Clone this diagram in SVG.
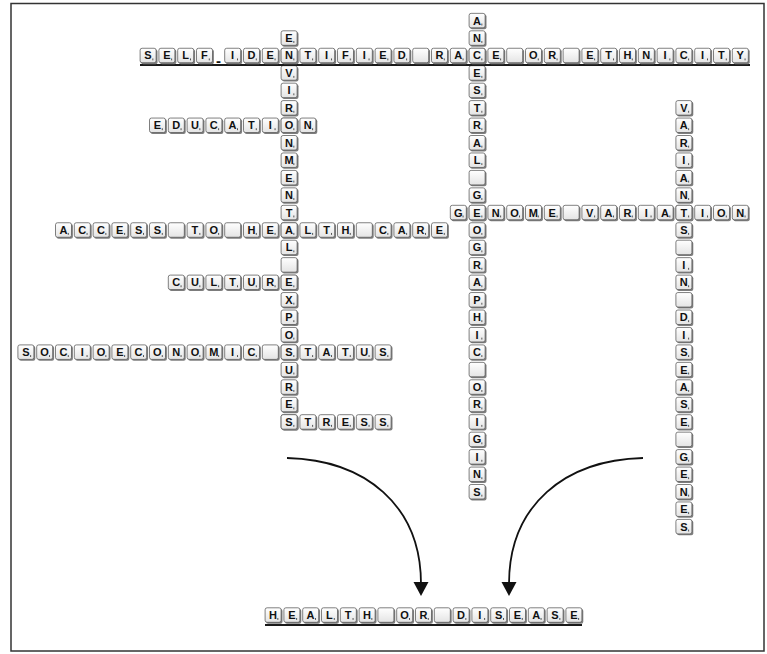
<svg xmlns="http://www.w3.org/2000/svg" xmlns:xlink="http://www.w3.org/1999/xlink" width="767" height="654" viewBox="0 0 767 654">
<style>
.l{font-family:"Liberation Sans",Arial,Helvetica,sans-serif;font-size:11px;font-weight:bold;fill:#111;text-anchor:middle}
.hy{font-size:15px}
.conn{fill:none;stroke:#111;stroke-width:1.8}
.ul{stroke:#1a1a1a;stroke-width:2}
</style>
<defs>
<linearGradient id="gf" x1="0" y1="0" x2="0" y2="1">
<stop offset="0" stop-color="#ffffff"/>
<stop offset="1" stop-color="#e4e4e4"/>
</linearGradient>
<g id="bt">
<rect x="-6.8" y="-6" width="16.3" height="14.7" rx="2" fill="#7f7f7f"/>
<rect x="-7.9" y="-7.2" width="16" height="14.5" rx="2" fill="url(#gf)" stroke="#555" stroke-width="0.75"/>
</g>
<g id="lt">
<use href="#bt"/>
<rect x="4.4" y="3" width="0.9" height="1.9" fill="#444"/>
</g>
</defs>
<rect x="0" y="0" width="767" height="654" fill="#fff"/>
<rect x="11" y="3.5" width="753" height="647.5" fill="none" stroke="#333" stroke-width="1.5"/>

<g id="connectors">
<path class="conn" d="M287,458 C365,460 421,505 421,584"/>
<path d="M413.5,582 L428.5,582 L421,596 Z" fill="#111"/>
<path class="conn" d="M643,458 C565,460 509,505 509,584"/>
<path d="M501.5,582 L516.5,582 L509,596 Z" fill="#111"/>
</g>

<g id="environmental-exposures" transform="translate(289,38)">
<use href="#lt" y="0"/><use href="#lt" y="17.45"/><use href="#lt" y="34.9"/><use href="#lt" y="52.35"/><use href="#lt" y="69.8"/><use href="#lt" y="87.25"/><use href="#lt" y="104.7"/><use href="#lt" y="122.15"/><use href="#lt" y="139.6"/><use href="#lt" y="157.05"/><use href="#lt" y="174.5"/><use href="#lt" y="191.95"/><use href="#lt" y="209.4"/><use href="#bt" y="226.85"/><use href="#lt" y="244.3"/><use href="#lt" y="261.75"/><use href="#lt" y="279.2"/><use href="#lt" y="296.65"/><use href="#lt" y="314.1"/><use href="#lt" y="331.55"/><use href="#lt" y="349"/><use href="#lt" y="366.45"/><use href="#lt" y="383.9"/>
<text class="l" x="0 0 0 0 0 0 0 0 0 0 0 0 0 0 0 0 0 0 0 0 0 0 0" y="4 21.45 38.9 56.35 73.8 91.25 108.7 126.15 143.6 161.05 178.5 195.95 213.4 230.85 248.3 265.75 283.2 300.65 318.1 335.55 353 370.45 387.9">ENVIRONMENTAL EXPOSURES</text>
</g>

<g id="ancestral-geographic-origins" transform="translate(477,20.55)">
<use href="#lt" y="0"/><use href="#lt" y="17.45"/><use href="#lt" y="34.9"/><use href="#lt" y="52.35"/><use href="#lt" y="69.8"/><use href="#lt" y="87.25"/><use href="#lt" y="104.7"/><use href="#lt" y="122.15"/><use href="#lt" y="139.6"/><use href="#bt" y="157.05"/><use href="#lt" y="174.5"/><use href="#lt" y="191.95"/><use href="#lt" y="209.4"/><use href="#lt" y="226.85"/><use href="#lt" y="244.3"/><use href="#lt" y="261.75"/><use href="#lt" y="279.2"/><use href="#lt" y="296.65"/><use href="#lt" y="314.1"/><use href="#lt" y="331.55"/><use href="#bt" y="349"/><use href="#lt" y="366.45"/><use href="#lt" y="383.9"/><use href="#lt" y="401.35"/><use href="#lt" y="418.8"/><use href="#lt" y="436.25"/><use href="#lt" y="453.7"/><use href="#lt" y="471.15"/>
<text class="l" x="0 0 0 0 0 0 0 0 0 0 0 0 0 0 0 0 0 0 0 0 0 0 0 0 0 0 0 0" y="4 21.45 38.9 56.35 73.8 91.25 108.7 126.15 143.6 161.05 178.5 195.95 213.4 230.85 248.3 265.75 283.2 300.65 318.1 335.55 353 370.45 387.9 405.35 422.8 440.25 457.7 475.15">ANCESTRAL GEOGRAPHIC ORIGINS</text>
</g>

<g id="variants-in-disease-genes" transform="translate(683.8,107.8)">
<use href="#lt" y="0"/><use href="#lt" y="17.45"/><use href="#lt" y="34.9"/><use href="#lt" y="52.35"/><use href="#lt" y="69.8"/><use href="#lt" y="87.25"/><use href="#lt" y="104.7"/><use href="#lt" y="122.15"/><use href="#bt" y="139.6"/><use href="#lt" y="157.05"/><use href="#lt" y="174.5"/><use href="#bt" y="191.95"/><use href="#lt" y="209.4"/><use href="#lt" y="226.85"/><use href="#lt" y="244.3"/><use href="#lt" y="261.75"/><use href="#lt" y="279.2"/><use href="#lt" y="296.65"/><use href="#lt" y="314.1"/><use href="#bt" y="331.55"/><use href="#lt" y="349"/><use href="#lt" y="366.45"/><use href="#lt" y="383.9"/><use href="#lt" y="401.35"/><use href="#lt" y="418.8"/>
<text class="l" x="0 0 0 0 0 0 0 0 0 0 0 0 0 0 0 0 0 0 0 0 0 0 0 0 0" y="4 21.45 38.9 56.35 73.8 91.25 108.7 126.15 143.6 161.05 178.5 195.95 213.4 230.85 248.3 265.75 283.2 300.65 318.1 335.55 353 370.45 387.9 405.35 422.8">VARIANTS IN DISEASE GENES</text>
</g>

<g id="self-identified-race-or-ethnicity" transform="translate(148,55.45)">
<line class="ul" x1="-8" y1="9.5" x2="602" y2="9.5"/>
<use href="#lt" x="0"/><use href="#lt" x="18.8"/><use href="#lt" x="37.6"/><use href="#lt" x="56.4"/><use href="#lt" x="84.6"/><use href="#lt" x="103.4"/><use href="#lt" x="122.2"/><use href="#lt" x="141"/><use href="#lt" x="159.8"/><use href="#lt" x="178.6"/><use href="#lt" x="197.4"/><use href="#lt" x="216.2"/><use href="#lt" x="235"/><use href="#lt" x="253.8"/><use href="#bt" x="272.6"/><use href="#lt" x="291.4"/><use href="#lt" x="310.2"/><use href="#lt" x="329"/><use href="#lt" x="347.8"/><use href="#bt" x="366.6"/><use href="#lt" x="385.4"/><use href="#lt" x="404.2"/><use href="#bt" x="423"/><use href="#lt" x="441.8"/><use href="#lt" x="460.6"/><use href="#lt" x="479.4"/><use href="#lt" x="498.2"/><use href="#lt" x="517"/><use href="#lt" x="535.8"/><use href="#lt" x="554.6"/><use href="#lt" x="573.4"/><use href="#lt" x="592.2"/>
<text class="l" x="0 18.8 37.6 56.4 70.5 84.6 103.4 122.2 141 159.8 178.6 197.4 216.2 235 253.8 272.6 291.4 310.2 329 347.8 366.6 385.4 404.2 423 441.8 460.6 479.4 498.2 517 535.8 554.6 573.4 592.2" y="4 4 4 4 10.5 4">SELF<tspan class="hy">-</tspan>IDENTIFIED RACE OR ETHNICITY</text>
</g>

<g id="education" transform="translate(157.4,125.25)">
<use href="#lt" x="0"/><use href="#lt" x="18.8"/><use href="#lt" x="37.6"/><use href="#lt" x="56.4"/><use href="#lt" x="75.2"/><use href="#lt" x="94"/><use href="#lt" x="112.8"/><use href="#lt" x="131.6"/><use href="#lt" x="150.4"/>
<text class="l" x="0 18.8 37.6 56.4 75.2 94 112.8 131.6 150.4" y="4">EDUCATION</text>
</g>

<g id="genome-variation" transform="translate(458.2,212.5)">
<use href="#lt" x="0"/><use href="#lt" x="18.8"/><use href="#lt" x="37.6"/><use href="#lt" x="56.4"/><use href="#lt" x="75.2"/><use href="#lt" x="94"/><use href="#bt" x="112.8"/><use href="#lt" x="131.6"/><use href="#lt" x="150.4"/><use href="#lt" x="169.2"/><use href="#lt" x="188"/><use href="#lt" x="206.8"/><use href="#lt" x="225.6"/><use href="#lt" x="244.4"/><use href="#lt" x="263.2"/><use href="#lt" x="282"/>
<text class="l" x="0 18.8 37.6 56.4 75.2 94 112.8 131.6 150.4 169.2 188 206.8 225.6 244.4 263.2 282" y="4">GENOME VARIATION</text>
</g>

<g id="access-to-health-care" transform="translate(63.4,229.95)">
<use href="#lt" x="0"/><use href="#lt" x="18.8"/><use href="#lt" x="37.6"/><use href="#lt" x="56.4"/><use href="#lt" x="75.2"/><use href="#lt" x="94"/><use href="#bt" x="112.8"/><use href="#lt" x="131.6"/><use href="#lt" x="150.4"/><use href="#bt" x="169.2"/><use href="#lt" x="188"/><use href="#lt" x="206.8"/><use href="#lt" x="225.6"/><use href="#lt" x="244.4"/><use href="#lt" x="263.2"/><use href="#lt" x="282"/><use href="#bt" x="300.8"/><use href="#lt" x="319.6"/><use href="#lt" x="338.4"/><use href="#lt" x="357.2"/><use href="#lt" x="376"/>
<text class="l" x="0 18.8 37.6 56.4 75.2 94 112.8 131.6 150.4 169.2 188 206.8 225.6 244.4 263.2 282 300.8 319.6 338.4 357.2 376" y="4">ACCESS TO HEALTH CARE</text>
</g>

<g id="culture" transform="translate(176.2,282.3)">
<use href="#lt" x="0"/><use href="#lt" x="18.8"/><use href="#lt" x="37.6"/><use href="#lt" x="56.4"/><use href="#lt" x="75.2"/><use href="#lt" x="94"/><use href="#lt" x="112.8"/>
<text class="l" x="0 18.8 37.6 56.4 75.2 94 112.8" y="4">CULTURE</text>
</g>

<g id="socioeconomic-status" transform="translate(25.8,352.1)">
<use href="#lt" x="0"/><use href="#lt" x="18.8"/><use href="#lt" x="37.6"/><use href="#lt" x="56.4"/><use href="#lt" x="75.2"/><use href="#lt" x="94"/><use href="#lt" x="112.8"/><use href="#lt" x="131.6"/><use href="#lt" x="150.4"/><use href="#lt" x="169.2"/><use href="#lt" x="188"/><use href="#lt" x="206.8"/><use href="#lt" x="225.6"/><use href="#bt" x="244.4"/><use href="#lt" x="263.2"/><use href="#lt" x="282"/><use href="#lt" x="300.8"/><use href="#lt" x="319.6"/><use href="#lt" x="338.4"/><use href="#lt" x="357.2"/>
<text class="l" x="0 18.8 37.6 56.4 75.2 94 112.8 131.6 150.4 169.2 188 206.8 225.6 244.4 263.2 282 300.8 319.6 338.4 357.2" y="4">SOCIOECONOMIC STATUS</text>
</g>

<g id="stress" transform="translate(289,421.9)">
<use href="#lt" x="0"/><use href="#lt" x="18.8"/><use href="#lt" x="37.6"/><use href="#lt" x="56.4"/><use href="#lt" x="75.2"/><use href="#lt" x="94"/>
<text class="l" x="0 18.8 37.6 56.4 75.2 94" y="4">STRESS</text>
</g>

<g id="health-or-disease" transform="translate(273,615)">
<line class="ul" x1="-8" y1="10" x2="309" y2="10"/>
<use href="#lt" x="0"/><use href="#lt" x="18.8"/><use href="#lt" x="37.6"/><use href="#lt" x="56.4"/><use href="#lt" x="75.2"/><use href="#lt" x="94"/><use href="#bt" x="112.8"/><use href="#lt" x="131.6"/><use href="#lt" x="150.4"/><use href="#bt" x="169.2"/><use href="#lt" x="188"/><use href="#lt" x="206.8"/><use href="#lt" x="225.6"/><use href="#lt" x="244.4"/><use href="#lt" x="263.2"/><use href="#lt" x="282"/><use href="#lt" x="300.8"/>
<text class="l" x="0 18.8 37.6 56.4 75.2 94 112.8 131.6 150.4 169.2 188 206.8 225.6 244.4 263.2 282 300.8" y="4">HEALTH OR DISEASE</text>
</g>
</svg>
